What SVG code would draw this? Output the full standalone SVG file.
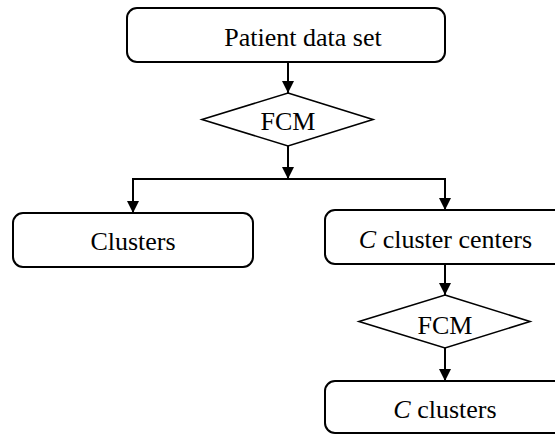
<svg xmlns="http://www.w3.org/2000/svg" width="555" height="435" viewBox="0 0 555 435">
  <style>
    .box { fill: #fff; stroke: #000; stroke-width: 2; }
    .dia { fill: #fff; stroke: #000; stroke-width: 1.6; }
    .lbl { font-size: 26px; fill: #000; text-anchor: middle; }
    .wire { fill: none; stroke: #000; stroke-width: 2; }
  </style>
  <defs>
    <marker id="arrow" viewBox="0 0 12 12" refX="12" refY="6" markerWidth="12" markerHeight="12" markerUnits="userSpaceOnUse" orient="auto">
      <path d="M0,0 L12,6 L0,12 Z" fill="#000"/>
    </marker>
  </defs>
  <rect width="555" height="435" fill="#fff"/>

  <g id="connectors">
    <line class="wire" x1="288" y1="62" x2="288" y2="93" marker-end="url(#arrow)"/>
    <line class="wire" x1="288" y1="146" x2="288" y2="179" marker-end="url(#arrow)"/>
    <polyline class="wire" points="133,179 445,179"/>
    <line class="wire" x1="133" y1="178" x2="133" y2="213" marker-end="url(#arrow)"/>
    <line class="wire" x1="445" y1="178" x2="445" y2="210" marker-end="url(#arrow)"/>
    <line class="wire" x1="445" y1="264" x2="445" y2="295" marker-end="url(#arrow)"/>
    <line class="wire" x1="445" y1="348" x2="445" y2="381" marker-end="url(#arrow)"/>
  </g>

  <g font-family="'Liberation Serif', 'Times New Roman', Times, serif">
    <g id="patient-data">
      <rect class="box" x="127" y="8" width="318" height="54" rx="10"/>
      <text class="lbl" x="303" y="45.5">Patient data set</text>
    </g>

    <g id="fcm-1">
      <polygon class="dia" points="288,93 373,119.5 288,146 202,119.5"/>
      <text class="lbl" x="288" y="130">FCM</text>
    </g>

    <g id="clusters">
      <rect class="box" x="13" y="213" width="240" height="54" rx="10"/>
      <text class="lbl" x="133" y="250">Clusters</text>
    </g>

    <g id="cluster-centers">
      <rect class="box" x="325" y="210" width="245" height="54" rx="10"/>
      <text class="lbl" x="445.5" y="248"><tspan font-style="italic">C</tspan> cluster centers</text>
    </g>

    <g id="fcm-2">
      <polygon class="dia" points="445,295 530,321.5 445,348 359,321.5"/>
      <text class="lbl" x="445" y="334">FCM</text>
    </g>

    <g id="c-clusters">
      <rect class="box" x="325" y="381" width="245" height="52" rx="10"/>
      <text class="lbl" x="445" y="418"><tspan font-style="italic">C</tspan> clusters</text>
    </g>
  </g>
</svg>
